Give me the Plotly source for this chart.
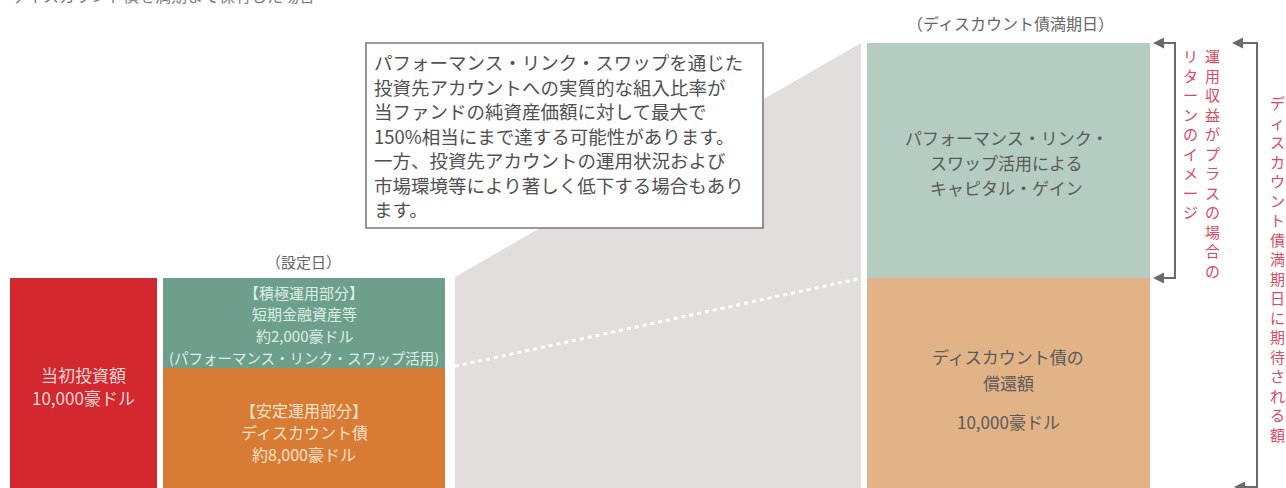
import plotly.graph_objects as go

# ---------------- data ----------------
initial_label = "当初投資額"
initial_amount = [10000]
setup_parts = ["積極運用部分", "安定運用部分"]
setup_assets = ["短期金融資産等", "ディスカウント債"]
setup_amounts = [2000, 8000]
maturity_amount = [10000]
stage_labels = ["（設定日）", "（ディスカウント債満期日）"]
box_lines = [
    "パフォーマンス・リンク・スワップを通じた",
    "投資先アカウントへの実質的な組入比率が",
    "当ファンドの純資産価額に対して最大で",
    "150%相当にまで達する可能性があります。",
    "一方、投資先アカウントの運用状況および",
    "市場環境等により著しく低下する場合もあり",
    "ます。",
]
gain_lines = ["パフォーマンス・リンク・", "スワップ活用による", "キャピタル・ゲイン"]
redeem_lines = ["ディスカウント債の", "償還額"]
vert_col1 = "運用収益がプラスの場合の"
vert_col2 = "リターンのイメージ"
vert_col3 = "ディスカウント債満期日に期待される額"
top_note = "ディスカウント債を満期まで保有した場合"

# schematic heights of the blocks (diagram units, bottom = 0)
initial_height = [210]
setup_heights = [90, 120]          # active part, stable part
maturity_heights = [210, 235]      # redemption, capital gain

# ---------------- styling ----------------
W, H = 1286, 488
FONT = "Noto Sans CJK JP"
RED = "#d3282f"
TEAL_D = "#6e9f8c"
ORANGE_D = "#d87b35"
TEAL_L = "#b4ccc2"
ORANGE_L = "#e1b387"
GREY_BG = "#e3dede"
PINK = "#e04a5f"
DARK = "#5a5a5a"

def py(p):
    """convert a top-down pixel row into the upward diagram axis"""
    return H - p

fig = go.Figure()

# connecting grey trapezoid
fig.add_trace(go.Scatter(
    x=[455, 455, 861, 861, 455], y=[0, py(277), py(43), 0, 0],
    fill="toself", fillcolor=GREY_BG, line=dict(width=0), mode="lines",
    hoverinfo="skip"))

# initial investment bar
fig.add_trace(go.Bar(x=[83.5], y=initial_height, base=[0], width=[147],
                     marker=dict(color=RED, line=dict(width=0)), hoverinfo="skip"))
# setup date stacked bars (stable at bottom, active on top)
fig.add_trace(go.Bar(x=[304], y=[setup_heights[1]], base=[0], width=[282],
                     marker=dict(color=ORANGE_D, line=dict(width=0)), hoverinfo="skip"))
fig.add_trace(go.Bar(x=[304], y=[setup_heights[0]], base=[setup_heights[1]], width=[282],
                     marker=dict(color=TEAL_D, line=dict(width=0)), hoverinfo="skip"))
# maturity bars
fig.add_trace(go.Bar(x=[1008.5], y=[maturity_heights[0]], base=[0], width=[283],
                     marker=dict(color=ORANGE_L, line=dict(width=0)), hoverinfo="skip"))
fig.add_trace(go.Bar(x=[1008.5], y=[maturity_heights[1]], base=[maturity_heights[0]], width=[283],
                     marker=dict(color=TEAL_L, line=dict(width=0)), hoverinfo="skip"))

# dotted connection line
fig.add_trace(go.Scatter(x=[447, 862], y=[setup_heights[1], maturity_heights[0]],
                         mode="lines", line=dict(color="white", width=3, dash="4px,4px"),
                         hoverinfo="skip"))

# brackets
GREY_LINE = "#6a6a6a"
fig.add_trace(go.Scatter(x=[1160, 1175, 1175, 1160], y=[py(43), py(43), py(278), py(278)],
                         mode="lines", line=dict(color=GREY_LINE, width=2), hoverinfo="skip"))
fig.add_trace(go.Scatter(x=[1239, 1257, 1257, 1241], y=[py(43), py(43), py(487), py(487)],
                         mode="lines", line=dict(color=GREY_LINE, width=2), hoverinfo="skip"))

ann = []
def arrow(xtip, ytip, xtail):
    ann.append(dict(x=xtip, y=ytip, ax=xtail, ay=ytip, xref="x", yref="y",
                    axref="x", ayref="y", text="", showarrow=True, arrowhead=2,
                    arrowsize=1.1, arrowwidth=2, arrowcolor=GREY_LINE))
arrow(1153, py(43), 1168)
arrow(1153, py(278), 1168)
arrow(1232, py(43), 1247)
arrow(1234, py(487), 1249)

def txt(x, p, s, size, color, xanchor="center", yanchor="middle"):
    ann.append(dict(x=x, y=py(p), text=s, showarrow=False, xref="x", yref="y",
                    xanchor=xanchor, yanchor=yanchor, align="center",
                    font=dict(family=FONT, size=size, color=color)))

# top note, cut off by the page edge (as in the source image)
txt(10, 9, top_note, 16, "#7a7a7a", xanchor="left", yanchor="bottom")

# stage labels
txt(303, 261, stage_labels[0], 15, "#666666")
txt(1010, 23, stage_labels[1], 16, "#666666")

# red block text
txt(83.5, 374, initial_label, 17, "#f7d6d3")
txt(83.5, 397, f"{initial_amount[0]:,}豪ドル", 17, "#f7d6d3")

# active part text
active_lines = [f"【{setup_parts[0]}】", setup_assets[0], f"約{setup_amounts[0]:,}豪ドル"]
for i, s in enumerate(active_lines):
    txt(304, 292 + i * 21.5, s, 15, "#dcefe7")
txt(304, 357, "(パフォーマンス・リンク・スワップ活用)", 14.5, "#dcefe7")
# stable part text
stable_lines = [f"【{setup_parts[1]}】", setup_assets[1], f"約{setup_amounts[1]:,}豪ドル"]
for i, s in enumerate(stable_lines):
    txt(304, 410 + i * 22, s, 16, "#fbe1c8")

# maturity texts
for i, s in enumerate(gain_lines):
    txt(1006, 137 + i * 25, s, 17, DARK)
txt(1008, 356, redeem_lines[0], 17, DARK)
txt(1008, 382, redeem_lines[1], 17, DARK)
txt(1008, 421, f"{maturity_amount[0]:,}豪ドル", 17, DARK)

# explanation box text
for i, s in enumerate(box_lines):
    txt(372, 62 + i * 24.5, s, 18.5, "#505050", xanchor="left")

# vertical pink texts (one character per line)
def vtext(x, ptop, s, size):
    ann.append(dict(x=x, y=py(ptop), text="<br>".join(s), showarrow=False,
                    xref="x", yref="y", xanchor="center", yanchor="top",
                    align="center", borderpad=0,
                    font=dict(family=FONT, size=size, color=PINK)))
vtext(1212, 44, vert_col1, 15)
vtext(1190, 44, vert_col2, 15)
vtext(1277, 91, vert_col3, 15)

shapes = [dict(type="rect", xref="x", yref="y", x0=366, x1=763, y0=py(228), y1=py(43),
               fillcolor="white", line=dict(color="#7a7a7a", width=1.6), layer="above")]

fig.update_layout(
    width=W, height=H, autosize=False,
    margin=dict(l=0, r=0, t=0, b=0),
    paper_bgcolor="white", plot_bgcolor="white",
    showlegend=False, barmode="overlay", bargap=0,
    xaxis=dict(range=[0, W], visible=False, fixedrange=True),
    yaxis=dict(range=[0, H], visible=False, fixedrange=True),
    annotations=ann, shapes=shapes,
)

fig.write_html("out.html", config={"displayModeBar": False},
               post_script="document.body.style.margin='0';document.body.style.overflow='hidden';")
